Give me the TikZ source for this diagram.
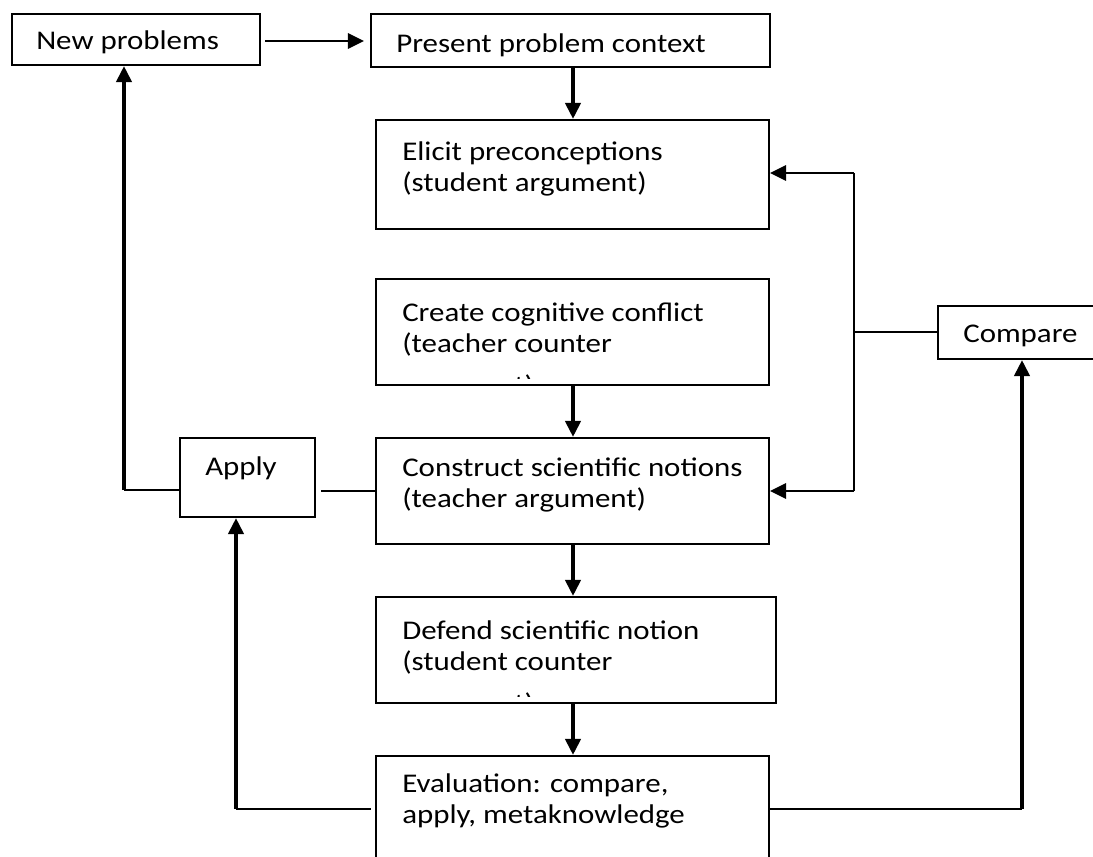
\documentclass[tikz,border=0pt]{standalone}
\usepackage{fontspec}
\setmainfont{Carlito}[FakeStretch=1.145]
\usetikzlibrary{arrows.meta,fit}
\begin{document}
\begin{tikzpicture}[x=0.75pt,y=-0.75pt,
  box/.style={draw, line width=1.7pt, inner sep=0pt, fill=none},
  txt/.style={inner sep=0pt, anchor=base west, font=\fontsize{20.25pt}{23.25pt}\selectfont},
  hl/.style={line width=1.7pt},
  harr/.style={line width=1.7pt, -{Triangle[length=12pt,width=11.5pt]}},
  varr/.style={line width=2.5pt, -{Triangle[length=12pt,width=11.5pt]}},
  line join=miter]
\useasboundingbox[fill=white] (0,0) rectangle (1093,857);

% boxes
\node[box, fit={(12,14) (260,65)}] (newp) {};
\node[box, fit={(371,14) (770,67)}] (present) {};
\node[box, fit={(376,120) (769,229)}] (elicit) {};
\node[box, fit={(376,279) (769,385)}] (create) {};
\node[box, fit={(376,438) (769,544)}] (construct) {};
\node[box, fit={(376,597) (776,703)}] (defend) {};
\node[box, fit={(376,756) (769,880)}] (eval) {};
\node[box, fit={(180,438) (315,517)}] (apply) {};
\node[box, fit={(938,306) (1110,359)}] (compare) {};

% texts
\node[txt] (tnew) at (36,49) {New problems};
\begin{scope}
  \clip (372,15) rectangle (769,57);
  \node[txt] (tpres) at (396,52) {Present problem context};
\end{scope}
\node[txt] (tel1) at (402,160) {Elicit preconceptions};
\node[txt] (tel2) at (402,191) {(student argument)};
\node[txt] (tcr1) at (402,321) {Create cognitive conflict};
\node[txt] (tcr2) at (402,352) {(teacher counter};
\begin{scope}
  \clip (380,372) rectangle (760,378.5);
  \node[txt] (tcr3) at (402,394) {argument)};
\end{scope}
\node[txt] (tco1) at (402,476) {Construct scientific notions};
\node[txt] (tco2) at (402,507) {(teacher argument)};
\node[txt] (tde1) at (402,639) {Defend scientific notion};
\node[txt] (tde2) at (402,670) {(student counter};
\begin{scope}
  \clip (380,690) rectangle (760,696.5);
  \node[txt] (tde3) at (402,712) {argument)};
\end{scope}
\node[txt] (tev1) at (402,792) {Evaluation: compare,};
\node[txt] (tev2) at (402,823) {apply, metaknowledge};
\node[txt] (tap) at (205,475) {Apply};
\node[txt] (tcm) at (963,342) {Compare};

% main column
\draw[harr, shorten <=3pt, shorten >=4.5pt] (newp.east |- 0,41) -- (present.west |- 0,41);
\draw[varr] (present.south -| 573,0) -- (elicit.north -| 573,0);
\draw[varr] (create.south -| 573,0) -- (construct.north -| 573,0);
\draw[varr] (construct.south -| 573,0) -- (defend.north -| 573,0);
\draw[varr] (defend.south -| 573,0) -- (eval.north -| 573,0);

% apply loop
\coordinate (c1) at (124,490);
\draw[hl] (apply.west |- c1) -- (c1);
\draw[varr] (c1) -- (c1 |- newp.south);
\draw[hl, shorten >=3.75pt] (construct.west) -- (construct.west -| apply.east);

\coordinate (c2) at (236,809);
\draw[hl, shorten <=3pt] (eval.west |- c2) -- (c2);
\draw[varr] (c2) -- (c2 |- apply.south);

% compare loop
\coordinate (c3) at (1022,809);
\draw[hl] (eval.east |- c3) -- (c3);
\draw[varr] (c3) -- (c3 |- compare.south);

\coordinate (c4) at (854,332);
\coordinate (c5) at (854,173);
\coordinate (c6) at (854,491);
\draw[hl] (compare.west |- c4) -- (c4);
\draw[hl] (c5) -- (c6);
\draw[harr] (c5) -- (c5 -| elicit.east);
\draw[harr] (c6) -- (c6 -| construct.east);
\end{tikzpicture}
\end{document}
